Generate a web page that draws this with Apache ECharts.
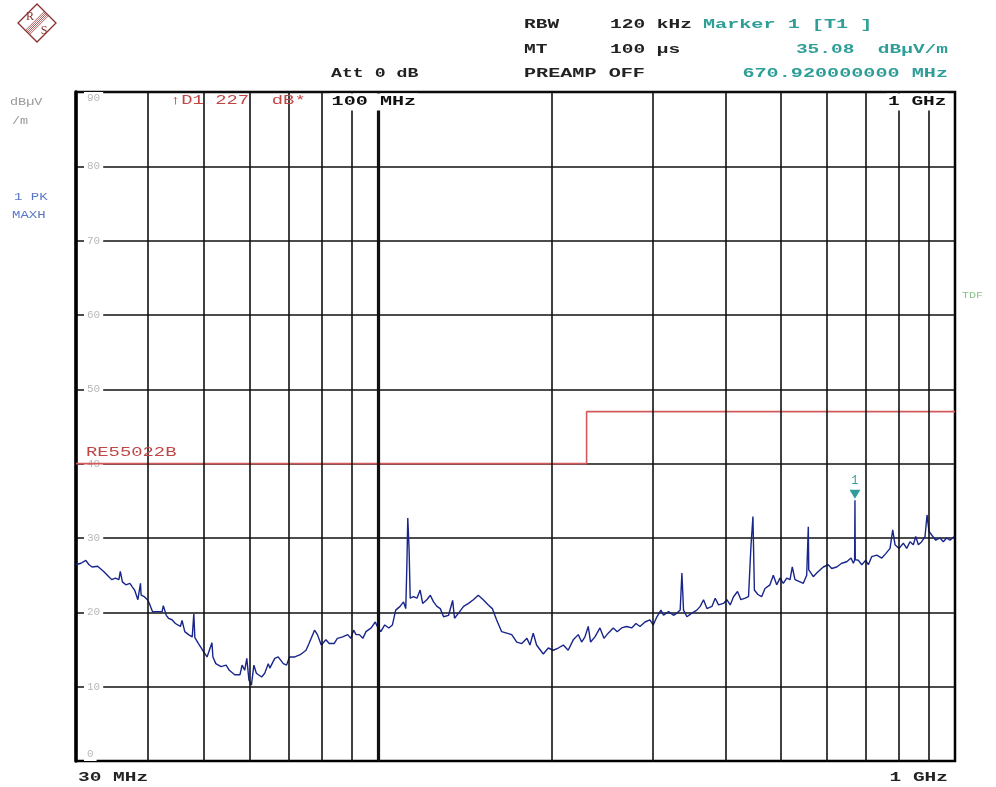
<!DOCTYPE html>
<html>
<head>
<meta charset="utf-8">
<title>Spectrum 30 MHz - 1 GHz</title>
<script src="https://cdn.jsdelivr.net/npm/echarts@6.0.0/dist/echarts.min.js"></script>
<style>
  html, body { margin: 0; padding: 0; background: #fff; }
  #chart { width: 996px; height: 787px; }
</style>
</head>
<body>
<div id="chart"></div>
<script>
// trace (MHz, dBuV/m)
const freqMHz = [
  30.0, 30.6, 31.2, 31.6, 32.0, 32.7, 33.5, 34.2, 34.6, 35.1,
  35.6, 35.8, 36.1, 36.6, 37.2, 37.5, 37.9, 38.4, 38.8, 38.9,
  39.4, 39.9, 40.2, 40.7, 41.4, 42.3, 42.5, 43.0, 43.4, 44.0,
  44.6, 45.5, 45.8, 46.3, 47.0, 47.7, 48.0, 48.2, 48.9, 49.9,
  50.6, 51.6, 51.8, 52.4, 53.5, 54.6, 55.3, 56.5, 57.7, 58.2,
  58.8, 59.3, 59.8, 60.4, 61.0, 61.6, 62.9, 63.7, 64.6, 65.0,
  66.3, 67.2, 68.6, 69.5, 70.3, 71.8, 73.4, 75.1, 76.0, 77.7,
  78.6, 79.8, 81.3, 82.4, 84.0, 85.1, 86.9, 88.7, 89.8, 90.8,
  91.7, 92.9, 94.2, 95.4, 97.4, 99.0, 99.8, 101.2, 102.8, 104.5,
  106.0, 107.4, 109.3, 110.8, 111.8, 112.3, 112.7, 113.3, 113.8, 115.3,
  116.9, 118.4, 119.6, 121.6, 123.3, 124.9, 126.6, 128.3, 130.0, 132.6,
  134.8, 135.8, 138.0, 140.8, 143.6, 146.4, 149.3, 152.3, 155.4, 157.9,
  160.6, 163.9, 167.2, 170.6, 174.1, 177.6, 181.3, 183.5, 185.9, 188.4,
  193.5, 197.4, 201.4, 205.4, 209.6, 213.7, 218.1, 222.5, 225.5, 228.5,
  231.5, 233.7, 237.8, 242.6, 246.5, 250.7, 255.8, 259.9, 264.5, 269.8,
  275.3, 280.1, 284.6, 290.3, 296.1, 300.0, 304.5, 309.4, 312.6, 318.9,
  325.3, 329.8, 334.1, 336.4, 338.6, 343.2, 350.0, 357.1, 361.9, 366.7,
  371.7, 379.2, 384.2, 389.3, 397.1, 402.5, 407.9, 413.3, 420.0, 425.7,
  433.1, 438.8, 443.0, 446.6, 449.2, 455.5, 462.4, 468.6, 478.0, 484.4,
  491.0, 497.5, 504.1, 511.0, 517.8, 522.5, 528.2, 538.9, 546.0, 553.4,
  556.0, 557.0, 558.0, 560.8, 568.2, 576.0, 583.6, 591.4, 603.2, 611.5,
  623.8, 636.4, 649.2, 660.5, 666.6, 670.0, 670.92, 671.8, 680.1, 689.4,
  700.5, 707.8, 717.5, 731.9, 746.7, 758.6, 771.7, 780.0, 787.2, 799.9,
  813.7, 824.8, 835.7, 846.8, 855.0, 863.9, 875.7, 887.3, 894.4, 901.6,
  911.3, 926.0, 942.0, 954.4, 967.4, 980.2, 997.2, 1000.0
];
const levelDb = [
  26.4, 26.6, 27.0, 26.4, 26.1, 26.2, 25.5, 24.8, 24.4, 24.6,
  24.4, 25.5, 24.1, 23.7, 23.9, 23.5, 23.0, 21.7, 23.9, 22.3,
  22.1, 21.7, 21.2, 20.1, 20.1, 20.1, 20.9, 19.6, 19.2, 19.0,
  18.5, 18.1, 18.9, 17.4, 17.0, 16.7, 19.8, 16.6, 15.8, 14.7,
  14.0, 15.9, 14.0, 13.1, 12.7, 12.9, 12.2, 11.6, 11.6, 12.9,
  12.2, 13.8, 10.9, 10.2, 12.9, 11.8, 11.3, 11.8, 13.1, 12.5,
  13.8, 14.0, 13.1, 12.9, 14.0, 14.0, 14.3, 14.9, 15.8, 17.6,
  17.0, 15.6, 16.3, 15.8, 15.8, 16.5, 16.7, 17.0, 16.5, 17.6,
  17.0, 17.0, 16.5, 17.4, 17.9, 18.7, 18.1, 17.4, 18.3, 17.9,
  18.3, 20.3, 20.8, 21.4, 20.5, 26.4, 32.7, 28.4, 21.9, 22.1,
  21.9, 23.0, 21.2, 21.7, 22.3, 21.4, 20.8, 20.5, 19.4, 19.6,
  21.6, 19.2, 19.9, 20.8, 21.2, 21.7, 22.3, 21.7, 21.0, 20.5,
  19.0, 17.4, 17.2, 17.0, 16.0, 15.8, 16.5, 15.6, 17.2, 15.6,
  14.4, 15.2, 14.9, 15.2, 15.6, 14.9, 16.3, 17.0, 16.0, 16.7,
  18.1, 16.0, 16.7, 17.9, 16.5, 17.2, 17.9, 17.4, 17.9, 18.1,
  17.9, 18.5, 18.1, 18.7, 19.0, 18.3, 19.4, 20.3, 19.6, 20.1,
  19.6, 19.9, 20.3, 25.3, 20.3, 19.4, 19.9, 20.3, 20.8, 21.7,
  20.5, 20.8, 21.9, 21.0, 21.2, 21.7, 21.0, 22.1, 22.8, 21.7,
  21.9, 22.1, 28.8, 32.9, 23.0, 22.4, 22.1, 23.2, 23.7, 25.0,
  23.7, 24.6, 23.9, 24.6, 24.4, 26.1, 24.4, 24.1, 23.9, 25.0,
  25.0, 31.5, 25.7, 25.7, 24.8, 25.3, 25.7, 26.1, 26.4, 25.9,
  26.1, 26.6, 26.8, 27.3, 26.6, 27.0, 35.08, 27.1, 27.0, 26.4,
  27.0, 26.4, 27.5, 27.7, 27.3, 27.9, 28.6, 31.1, 29.1, 28.6,
  29.3, 28.6, 29.5, 29.1, 30.2, 29.1, 29.5, 30.2, 33.1, 30.9,
  30.4, 29.7, 30.0, 29.5, 30.0, 29.7, 30.2, 30.2
];

// limit line RE55022B
const limitFreq = [30, 230, 230, 1000];
const limitDb = [40, 40, 47, 47];

// vertical graticule (MHz), y graticule every 10 dB
const gridFreqs = [40, 50, 60, 70, 80, 90, 100, 200, 300, 400, 500, 600, 700, 800, 900];
const yMin = 0, yMax = 90, yStep = 10;

const markerFreq = 670.92;
const markerLevel = 35.08;

const MONO = "'Liberation Mono', 'DejaVu Sans Mono', monospace";
const TEAL = "#2f9e98";
const RED = "#c04646";

function txt(x, y, text, color, opts = {}) {
  const size = opts.size || 13;
  return {
    type: "text",
    x, y,
    scaleX: opts.scale || 1.5,
    z: 100,
    silent: true,
    style: {
      text,
      fill: color,
      font: `${opts.weight || "bold"} ${size}px ${MONO}`,
      textAlign: opts.align || "left",
      textVerticalAlign: "middle",
      align: opts.align || "left",
      verticalAlign: "middle",
      backgroundColor: opts.bg,
      padding: opts.bg ? [2, 1] : 0,
    },
  };
}

function logo() {
  const cx = 37, cy = 23, r = 19;
  const stripes = [-3, -1.5, 0, 1.5, 3].map(k => ({
    type: "line",
    silent: true,
    shape: {
      x1: cx + r / 2 + k * 0.707, y1: cy - r / 2 + k * 0.707,
      x2: cx - r / 2 + k * 0.707, y2: cy + r / 2 + k * 0.707,
    },
    style: { stroke: "#9a3a3a", lineWidth: 0.8 },
  }));
  return {
    type: "group",
    children: [
      {
        type: "polygon",
        silent: true,
        shape: { points: [[cx, cy - r], [cx + r, cy], [cx, cy + r], [cx - r, cy]] },
        style: { fill: "none", stroke: "#8b2e2e", lineWidth: 1.3 },
      },
      ...stripes,
      { type: "text", x: 30, y: 17, silent: true, style: { text: "R", fill: "#8b2e2e", font: "12px 'Liberation Serif'", align: "center", verticalAlign: "middle" } },
      { type: "text", x: 44, y: 31, silent: true, style: { text: "S", fill: "#8b2e2e", font: "12px 'Liberation Serif'", align: "center", verticalAlign: "middle" } },
    ],
  };
}

const chart = echarts.init(document.getElementById("chart"));

chart.setOption({
  animation: false,
  backgroundColor: "#fff",
  grid: {
    left: 76, top: 92, width: 879, height: 669,
    show: true, borderColor: "#000", borderWidth: 2.5, backgroundColor: "transparent",
  },
  xAxis: {
    type: "log",
    logBase: 10,
    min: 30,
    max: 1000,
    axisLine: { show: true, lineStyle: { color: "#000", width: 2 } },
    axisTick: { show: false },
    axisLabel: { show: false },
    splitLine: { show: false },
  },
  yAxis: {
    type: "value",
    min: yMin,
    max: yMax,
    interval: yStep,
    axisLine: { show: true, lineStyle: { color: "#000", width: 3.5 } },
    axisTick: { show: false },
    splitLine: { lineStyle: { color: "#111", width: 1.6 } },
    axisLabel: {
      inside: true,
      margin: 8,
      color: "#b8b8b8",
      fontSize: 11,
      fontFamily: MONO,
      backgroundColor: "#fff",
      padding: [1, 3],
      verticalAlignMinLabel: "bottom",
      verticalAlignMaxLabel: "top",
    },
  },
  series: [
    {
      name: "graticule",
      type: "line",
      data: [],
      silent: true,
      markLine: {
        silent: true,
        symbol: ["none", "none"],
        label: { show: false },
        lineStyle: { color: "#111", width: 1.6, type: "solid" },
        data: gridFreqs.map(f => ({
          xAxis: f,
          lineStyle: { color: "#111", width: f === 100 ? 3.2 : 1.6, type: "solid" },
        })),
      },
      z: 1,
    },
    {
      name: "RE55022B",
      type: "line",
      data: limitFreq.map((f, i) => [f, limitDb[i]]),
      showSymbol: false,
      silent: true,
      lineStyle: { color: "#d25a5a", width: 1.6 },
      z: 3,
    },
    {
      name: "1 PK MAXH",
      type: "line",
      data: freqMHz.map((f, i) => [f, levelDb[i]]),
      showSymbol: false,
      silent: true,
      lineStyle: { color: "#18268c", width: 1.4 },
      z: 4,
      markPoint: {
        silent: true,
        data: [{
          coord: [markerFreq, markerLevel],
          symbol: "triangle",
          symbolRotate: 180,
          symbolSize: [11, 9],
          symbolOffset: [0, -6],
          itemStyle: { color: TEAL },
          label: {
            show: true,
            position: "top",
            distance: 3,
            formatter: "1",
            color: TEAL,
            fontSize: 12,
            fontFamily: MONO,
          },
        }],
      },
    },
  ],
  graphic: [
    logo(),
    // header block
    txt(331, 74, "Att 0 dB", "#222", { scale: 1.4 }),
    txt(524, 25, "RBW", "#222"),
    txt(610, 25, "120 kHz", "#222"),
    txt(524, 50, "MT", "#222"),
    txt(610, 50, "100 µs", "#222"),
    txt(524, 74, "PREAMP OFF", "#222", { scale: 1.55 }),
    txt(703, 25, "Marker 1 [T1 ]", TEAL, { scale: 1.55 }),
    txt(948, 50, "35.08  dBµV/m", TEAL, { align: "right", scale: 1.5 }),
    txt(948, 74, "670.920000000 MHz", TEAL, { align: "right", scale: 1.55 }),
    // left margin
    txt(10, 102, "dBµV", "#999", { size: 10, weight: "normal", scale: 1.35 }),
    txt(12, 121, "/m", "#999", { size: 10, weight: "normal", scale: 1.35 }),
    txt(14, 197, "1 PK", "#5a78c8", { size: 10, weight: "normal", scale: 1.4 }),
    txt(12, 215, "MAXH", "#5a78c8", { size: 10, weight: "normal", scale: 1.4 }),
    txt(962, 296, "TDF", "#8cc08c", { size: 9, weight: "normal", scale: 1.3 }),
    // inside the graticule
    txt(170, 101, "↑D1 227  dB*", RED, { scale: 1.45, weight: "normal" }),
    txt(330, 102, "100 MHz", "#111", { scale: 1.55, bg: "#fff" }),
    txt(948, 102, "1 GHz", "#111", { align: "right", scale: 1.5, bg: "#fff" }),
    txt(86, 453, "RE55022B", RED, { scale: 1.45, weight: "normal" }),
    // frequency span
    txt(78, 778, "30 MHz", "#222"),
    txt(948, 778, "1 GHz", "#222", { align: "right" }),
  ],
});
</script>
</body>
</html>
